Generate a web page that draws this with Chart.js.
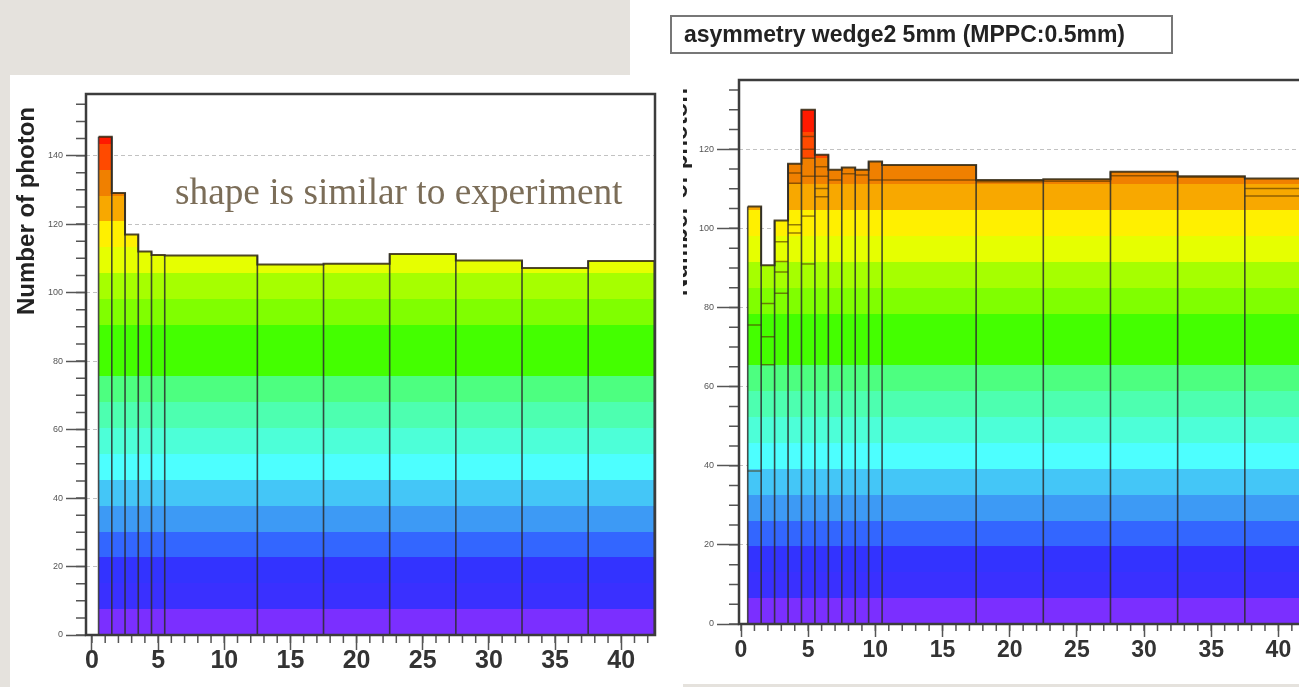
<!DOCTYPE html>
<html>
<head>
<meta charset="utf-8">
<script src="https://cdn.jsdelivr.net/npm/chart.js@4.4.1/dist/chart.umd.min.js"></script>
<style>
  html, body { margin: 0; padding: 0; }
  body { width: 1299px; height: 687px; overflow: hidden; position: relative; background: #e5e2dd; font-family: "Liberation Sans", Arial, sans-serif; }
  #rightPanel { position: absolute; left: 630px; top: 0; width: 669px; height: 684px; background: #fff; overflow: hidden; }
  #rightChart { position: absolute; left: 0; top: 0; filter: blur(0.5px); }
  #titleBox { position: absolute; left: 40px; top: 15px; width: 503px; height: 39px; box-sizing: border-box; border: 2px solid #777; background: #fff;
              font: bold 23px "Liberation Sans", Arial, sans-serif; color: #222; line-height: 35px; padding-left: 12px; white-space: nowrap; filter: blur(0.4px); }
  #leftPanel { position: absolute; left: 10px; top: 75px; width: 673px; height: 612px; background: #fff; }
  #leftChart { position: absolute; left: 0; top: 0; filter: blur(0.5px); }
</style>
</head>
<body>
<div id="rightPanel">
  <canvas id="rightChart" width="700" height="684"></canvas>
  <div id="titleBox">asymmetry wedge2 5mm (MPPC:0.5mm)</div>
</div>
<div id="leftPanel">
  <canvas id="leftChart" width="650" height="612"></canvas>
</div>
<script>
// bin edges and bin contents
var leftEdges = [0.5, 1.5, 2.5, 3.5, 4.5, 5.5, 12.5, 17.5, 22.5, 27.5, 32.5, 37.5, 42.5];
var leftCounts = [145.5, 129.1, 117.0, 112.0, 111.0, 110.8, 108.2, 108.4, 111.3, 109.4, 107.2, 109.2];

var rightEdges = [0.5, 1.5, 2.5, 3.5, 4.5, 5.5, 6.5, 7.5, 8.5, 9.5, 10.5, 17.5, 22.5, 27.5, 32.5, 37.5, 42.5];
var rightCounts = [105.5, 90.7, 102.0, 116.3, 130.0, 118.6, 114.8, 115.4, 114.8, 116.9, 116.0, 112.2, 112.4, 114.3, 113.2, 112.6];
// lower histograms drawn "same" on top of the right one
var rightLayerA = [75.6, 81.0, 96.6, 114.0, 123.2, 115.6, 112.2, 113.8, 113.5, 112.2, 112.2, 111.8, 111.9, 113.3, 112.9, 110.1];
var rightLayerB = [38.7, 72.6, 91.6, 111.4, 120.0, 113.2, null, null, null, null, null, null, null, null, null, 108.2];
var rightLayerC = [null, 65.5, 89.0, 100.9, 117.7, 110.1, null, null, null, null, null, null, null, null, null, null];
var rightLayerD = [null, null, 83.6, 98.8, 113.2, 108.0, null, null, null, null, null, null, null, null, null, null];
var rightLayerE = [null, null, null, null, 103.1, null, null, null, null, null, null, null, null, null, null, null];
var rightLayerF = [null, null, null, null, 91.0, null, null, null, null, null, null, null, null, null, null, null];

var xTickValues = [0, 5, 10, 15, 20, 25, 30, 35, 40];
var leftYTickValues = [0, 20, 40, 60, 80, 100, 120, 140];
var rightYTickValues = [0, 20, 40, 60, 80, 100, 120];

var yTitle = 'Number of photon';
var noteText = 'shape is similar to experiment';

// ROOT-like palette, one colour per contour band
var palette = ['#7b2fff', '#3a30ff', '#3333ff', '#3366ff', '#3d9af5', '#44c6f7', '#4dffff', '#4dffd8', '#4dffb0', '#4dff80',
               '#44ff00', '#44ff00', '#80ff00', '#a6ff00', '#e6ff00', '#fff000', '#f8a800', '#f08000', '#ff4a00', '#ff1a00'];

function stepPoints(edges, counts) {
  var pts = [];
  counts.forEach(function(v, i) {
    pts.push({ x: edges[i], y: v }, { x: edges[i + 1], y: v });
  });
  return pts;
}

function edgePoints(edges, counts) {
  var pts = [];
  edges.forEach(function(e, i) {
    var h = Math.max(i > 0 ? counts[i - 1] : 0, i < counts.length ? counts[i] : 0);
    pts.push({ x: e, y: 0 }, { x: e, y: h }, { x: e, y: null });
  });
  return pts;
}

function layerPoints(edges, layer) {
  var pts = [];
  layer.forEach(function(v, i) {
    if (v === null) return;
    pts.push({ x: edges[i], y: v }, { x: edges[i + 1], y: v }, { x: edges[i + 1], y: null });
  });
  return pts;
}

function bandFill(contourMax) {
  return function(context) {
    var chart = context.chart;
    if (!chart.chartArea) return 'rgba(0,0,0,0)';
    var ys = chart.scales.y;
    var g = chart.ctx.createLinearGradient(0, ys.getPixelForValue(0), 0, ys.getPixelForValue(contourMax));
    var n = palette.length;
    palette.forEach(function(c, i) {
      g.addColorStop(i / n, c);
      g.addColorStop((i + 1) / n, c);
    });
    return g;
  };
}

// minor ticks, frame, y title and the note
var rootDecor = {
  id: 'rootDecor',
  afterDatasetsDraw: function(chart, args, o) {
    var ctx = chart.ctx, a = chart.chartArea, xs = chart.scales.x, ys = chart.scales.y;
    ctx.save();
    ctx.strokeStyle = '#555';
    ctx.lineWidth = 1.5;
    ctx.beginPath();
    for (var v = Math.ceil(xs.min); v <= xs.max; v += 1) {
      var px = xs.getPixelForValue(v);
      ctx.moveTo(px, a.bottom);
      ctx.lineTo(px, a.bottom + o.xMinor);
    }
    for (var w = 0; w <= ys.max; w += 5) {
      var py = ys.getPixelForValue(w);
      ctx.moveTo(a.left, py);
      ctx.lineTo(a.left - o.yMinor, py);
    }
    ctx.stroke();

    ctx.strokeStyle = '#3c3c3c';
    ctx.lineWidth = 2.5;
    ctx.strokeRect(a.left, a.top, a.right - a.left, a.bottom - a.top);

    if (o.note) {
      ctx.font = '34px "Liberation Serif", "DejaVu Serif", serif';
      var size = 34 * o.note.width / ctx.measureText(o.note.text).width;
      ctx.font = size.toFixed(1) + 'px "Liberation Serif", "DejaVu Serif", serif';
      ctx.fillStyle = '#7b6d58';
      ctx.textAlign = 'left';
      ctx.textBaseline = 'alphabetic';
      ctx.fillText(o.note.text, o.note.x, o.note.y);
    }

    ctx.translate(o.titleX, o.titleY);
    ctx.rotate(-Math.PI / 2);
    ctx.font = 'bold 24px "Liberation Sans", Arial, sans-serif';
    ctx.fillStyle = '#222';
    ctx.textAlign = 'right';
    ctx.textBaseline = 'alphabetic';
    ctx.fillText(yTitle, 0, 0);
    ctx.restore();
  }
};

function histChart(id, o) {
  var datasets = [{
    data: stepPoints(o.edges, o.counts),
    fill: 'origin',
    backgroundColor: bandFill(o.contourMax),
    borderColor: 'rgba(50,40,15,0.85)',
    borderWidth: 2,
    pointRadius: 0,
    order: 3
  }];
  (o.layers || []).forEach(function(layer) {
    datasets.push({
      data: layerPoints(o.edges, layer),
      borderColor: 'rgba(80,50,0,0.6)',
      borderWidth: 1.5,
      pointRadius: 0,
      fill: false,
      spanGaps: false,
      order: 2
    });
  });
  datasets.push({
    data: edgePoints(o.edges, o.counts),
    borderColor: 'rgba(45,45,45,0.85)',
    borderWidth: 1.6,
    pointRadius: 0,
    fill: false,
    spanGaps: false,
    order: 1
  });

  return new Chart(document.getElementById(id), {
    type: 'line',
    data: { datasets: datasets },
    options: {
      responsive: false,
      animation: false,
      events: [],
      layout: { padding: o.padding },
      plugins: {
        legend: { display: false },
        tooltip: { enabled: false },
        rootDecor: o.decor
      },
      scales: {
        x: {
          type: 'linear',
          min: o.xMin,
          max: o.xMax,
          afterFit: function(s) { s.height = o.xAxisHeight; },
          afterBuildTicks: function(s) { s.ticks = xTickValues.map(function(v) { return { value: v }; }); },
          grid: { display: true, drawOnChartArea: false, tickLength: o.xMajor, tickColor: '#555', tickWidth: 1.5 },
          border: { display: false },
          ticks: { font: { family: '"Liberation Sans", Arial, sans-serif', size: o.xFont, weight: 'bold' }, color: '#333', padding: o.xPad, maxRotation: 0, autoSkip: false }
        },
        y: {
          type: 'linear',
          min: 0,
          max: o.yMax,
          afterFit: function(s) { s.width = o.yAxisWidth; },
          afterBuildTicks: function(s) { s.ticks = o.yTicks.map(function(v) { return { value: v }; }); },
          grid: { color: '#c2c2c2', lineWidth: 1, tickLength: o.yMajor, tickColor: '#555', tickWidth: 1.5 },
          border: { display: false, dash: [4, 3] },
          ticks: { font: { family: '"Liberation Sans", Arial, sans-serif', size: 9 }, color: '#555', padding: 3, autoSkip: false }
        }
      }
    },
    plugins: [rootDecor]
  });
}

histChart('rightChart', {
  edges: rightEdges,
  counts: rightCounts,
  layers: [rightLayerA, rightLayerB, rightLayerC, rightLayerD, rightLayerE, rightLayerF],
  contourMax: 130.8,
  xMin: -0.15, xMax: 42.5, yMax: 137.5,
  yTicks: rightYTickValues,
  padding: { top: 80, right: 18, left: 0, bottom: 0 },
  yAxisWidth: 109, xAxisHeight: 60,
  xMajor: 13, yMajor: 22, xFont: 23, xPad: 0,
  decor: { xMinor: 7, yMinor: 10, titleX: 57, titleY: 88 }
});

histChart('leftChart', {
  edges: leftEdges,
  counts: leftCounts,
  contourMax: 151,
  xMin: -0.45, xMax: 42.55, yMax: 158,
  yTicks: leftYTickValues,
  padding: { top: 19, right: 5, left: 0, bottom: 0 },
  yAxisWidth: 76, xAxisHeight: 52,
  xMajor: 15, yMajor: 20, xFont: 25, xPad: -4,
  decor: { xMinor: 8, yMinor: 10, titleX: 24, titleY: 32,
           note: { text: noteText, x: 165, y: 129, width: 447 } }
});
</script>
</body>
</html>
